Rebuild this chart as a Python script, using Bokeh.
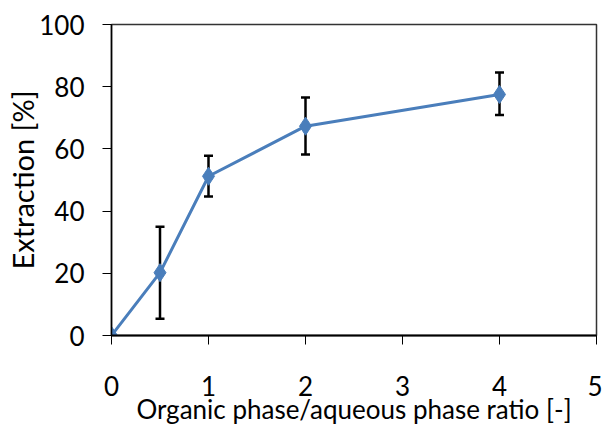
from bokeh.plotting import figure
from bokeh.models import ColumnDataSource, Whisker, TeeHead, FixedTicker, Range1d
from bokeh.embed import file_html
from bokeh.resources import INLINE

ratio = [0, 0.5, 1, 2, 4]
extraction = [0, 20.2, 51.2, 67.3, 77.5]
err_low = [0, 5.4, 44.7, 58.2, 70.9]
err_high = [0, 35.0, 57.8, 76.5, 84.6]
x_ticks = [0, 1, 2, 3, 4, 5]
y_ticks = [0, 20, 40, 60, 80, 100]
x_title = "Organic phase/aqueous phase ratio [-]"
y_title = "Extraction [%]"

FONT = "Lato"

p = figure(width=602, height=427, output_backend="svg", toolbar_location=None,
           x_range=Range1d(0, 5), y_range=Range1d(0, 100),
           min_border_left=111, min_border_right=6, min_border_top=24, min_border_bottom=87)
p.xgrid.visible = False
p.ygrid.visible = False
p.outline_line_color = "#333333"
p.outline_line_width = 1.5
p.background_fill_color = "white"
p.border_fill_color = "white"

src = ColumnDataSource(dict(x=ratio, y=extraction))
eb_src = ColumnDataSource(dict(x=ratio[1:], lo=err_low[1:], hi=err_high[1:]))

w = Whisker(source=eb_src, base="x", lower="lo", upper="hi",
            line_color="black", line_width=2.5,
            lower_head=TeeHead(size=9, line_color="black", line_width=2.5),
            upper_head=TeeHead(size=9, line_color="black", line_width=2.5))
p.add_layout(w)

p.line("x", "y", source=src, line_color="#4a7ebb", line_width=3)
p.scatter("x", "y", source=src, marker="diamond", size=18,
          fill_color="#4a7ebb", line_color="#4a7ebb")

for ax in (p.xaxis[0], p.yaxis[0]):
    ax.axis_line_color = "black"
    ax.major_tick_line_color = "black"
    ax.major_tick_in = 0
    ax.major_tick_out = 9
    ax.minor_tick_line_color = None
    ax.major_label_text_font = FONT
    ax.major_label_text_font_size = "26px"
    ax.major_label_text_color = "black"
    ax.axis_label_text_font = FONT
    ax.axis_label_text_font_style = "normal"
    ax.axis_label_text_color = "black"

p.xaxis[0].ticker = FixedTicker(ticks=x_ticks)
p.yaxis[0].ticker = FixedTicker(ticks=y_ticks)
p.xaxis[0].axis_line_width = 2
p.yaxis[0].axis_line_width = 1.5
p.xaxis[0].major_label_standoff = 31
p.yaxis[0].major_label_standoff = 18
p.xaxis[0].axis_label = x_title
p.xaxis[0].axis_label_text_font_size = "26px"
p.xaxis[0].axis_label_standoff = -6
p.yaxis[0].axis_label = y_title
p.yaxis[0].axis_label_text_font_size = "29px"
p.yaxis[0].axis_label_standoff = -4

open("out.html", "w").write(file_html(p, INLINE))
